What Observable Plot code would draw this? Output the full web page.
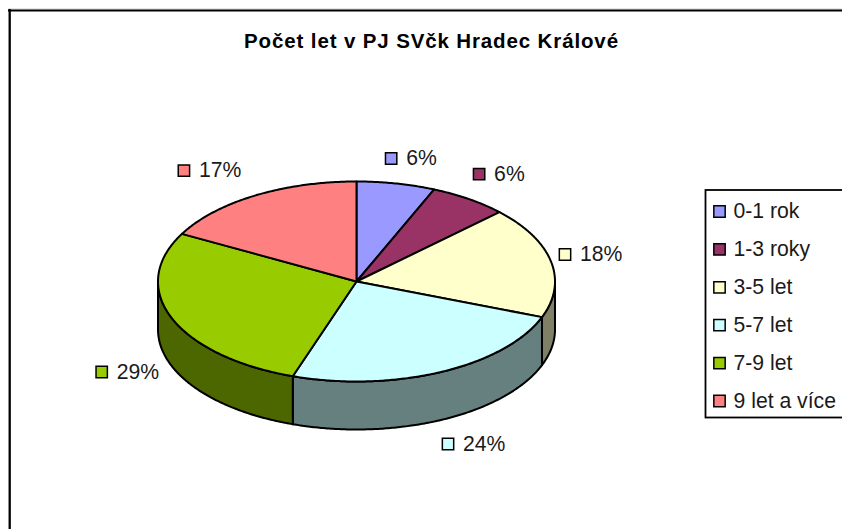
<!DOCTYPE html>
<html>
<head>
<meta charset="utf-8">
<style>html,body{margin:0;padding:0;background:#fff}svg{display:block}</style>
<script src="https://cdn.jsdelivr.net/npm/d3@7"></script>
<script src="https://cdn.jsdelivr.net/npm/@observablehq/plot@0.6"></script>
</head>
<body>
<div id="chart"></div>
<script>
const title = "Počet let v PJ SVčk Hradec Králové";
const categories = ["0-1 rok", "1-3 roky", "3-5 let", "5-7 let", "7-9 let", "9 let a více"];
const shares = [6.4, 6.4, 18.0, 24.4, 27.7, 17.1];
const labels = ["6%", "6%", "18%", "24%", "29%", "17%"];
const topColors = ["#9999FF", "#993366", "#FFFFCC", "#CCFFFF", "#99CC00", "#FF8080"];
const sideColors = ["#4C4C80", "#4C1933", "#808066", "#668080", "#4C6600", "#804040"];

// layout
const W = 842, H = 529;
const cx = 356, cy = 281, rx = 198.5, ry = 100, depth = 48;
const labelOffsets = [[-5, -25], [10, -25], [14, -7], [7, 72], [-70, 54], [-71, -25]];
const fontSize = 21.2;

const rim = (a, drop = 0) => ({x: cx + rx * Math.sin(a), y: cy - ry * Math.cos(a) + drop});
const arcPoints = (a0, a1, drop = 0) => {
  const n = Math.max(2, Math.ceil(Math.abs(a1 - a0) / 0.01));
  return d3.range(n + 1).map(i => rim(a0 + (a1 - a0) * i / n, drop));
};

const arcs = d3.pie().sort(null)(shares);

const tops = arcs.flatMap((s, i) => {
  const pts = [{x: cx, y: cy}, ...arcPoints(s.startAngle, s.endAngle), {x: cx, y: cy}];
  return pts.map(p => ({...p, category: categories[i]}));
});

const sides = arcs.flatMap((s, i) => {
  const a0 = Math.max(s.startAngle, Math.PI / 2), a1 = Math.min(s.endAngle, 3 * Math.PI / 2);
  if (a1 <= a0) return [];
  const upper = arcPoints(a0, a1), lower = arcPoints(a1, a0, depth);
  return [...upper, ...lower, upper[0]].map(p => ({...p, category: categories[i], shade: sideColors[i]}));
});

const pieLabels = arcs.map((s, i) => {
  const p = rim((s.startAngle + s.endAngle) / 2);
  return {x: p.x + labelOffsets[i][0], y: p.y + labelOffsets[i][1], label: labels[i], category: categories[i]};
});

const legend = categories.map((category, i) => ({category, y: 211 + i * 37.9}));

const chart = Plot.plot({
  width: W,
  height: H,
  margin: 0,
  style: {fontFamily: "'Liberation Sans', Arial, sans-serif", background: "#fff", color: "#000"},
  x: {axis: null, domain: [0, W], range: [0, W]},
  y: {axis: null, domain: [0, H], range: [0, H]},
  color: {domain: categories, range: topColors},
  marks: [
    // chart frame
    Plot.ruleY([8.5], {x1: 8, x2: W, stroke: "#ccc", strokeWidth: 1}),
    Plot.ruleX([9.2], {y1: 9, y2: H, stroke: "#000", strokeWidth: 2.3}),
    Plot.ruleY([10], {x1: 8, x2: W, stroke: "#000", strokeWidth: 2}),
    Plot.text([title], {x: 431, y: 40.5, text: d => d, fontSize: 20.5, fontWeight: "bold", fill: "#000"}),

    // pie
    Plot.line(sides, {x: "x", y: "y", z: "category", fill: {value: "shade", scale: null}, stroke: "#000", strokeWidth: 2}),
    Plot.line(tops, {x: "x", y: "y", z: "category", fill: "category", stroke: "#000", strokeWidth: 2}),

    // data labels with keys
    Plot.dot(pieLabels, {x: "x", y: "y", symbol: "square", r: 6.4, fill: "category", stroke: "#000", strokeWidth: 1.5}),
    Plot.text(pieLabels, {x: "x", y: "y", dx: 15, text: "label", textAnchor: "start", fontSize, fill: "#1a1a1a"}),

    // legend
    Plot.rect([0], {x1: 705.5, x2: W + 3, y1: 190, y2: 417.5, fill: "#fff", stroke: "#000", strokeWidth: 1.8}),
    Plot.dot(legend, {x: 719, y: "y", symbol: "square", r: 6.4, fill: "category", stroke: "#000", strokeWidth: 1.5}),
    Plot.text(legend, {x: 733, y: "y", text: "category", textAnchor: "start", fontSize, fill: "#1a1a1a"})
  ]
});
document.getElementById("chart").append(chart);
// title tracking of the original renderer
chart.querySelectorAll("text").forEach(t => { if (t.textContent === title) t.style.letterSpacing = "0.87px"; });
</script>
</body>
</html>
